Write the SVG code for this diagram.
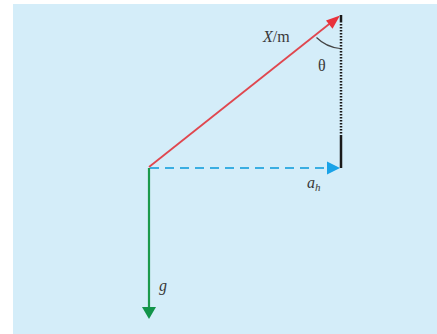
<svg xmlns="http://www.w3.org/2000/svg" width="437" height="334" viewBox="0 0 437 334">
<defs>
<style>
.lbl{font-family:"Liberation Serif","Times New Roman",serif;font-size:16px;fill:#3a3a3a;}
.it{font-style:italic;}
</style>
</defs>
<rect x="0" y="0" width="437" height="334" fill="#ffffff"/>
<rect x="13" y="4" width="424" height="330" fill="#d4edf9"/>
<g id="vertical">
<line x1="341" y1="15" x2="341" y2="21" stroke="#1a1a1a" stroke-width="2.5"/>
<line x1="341" y1="21" x2="341" y2="135" stroke="#1a1a1a" stroke-width="2.5" stroke-dasharray="1.6 1.4"/>
<line x1="341" y1="135" x2="341" y2="168" stroke="#1a1a1a" stroke-width="2.5"/>
</g>
<g id="connectors">
<line x1="149" y1="167" x2="333" y2="21" stroke="#e0474f" stroke-width="1.8"/>
<path d="M340,15.5 L326,20.5 L332.5,28.8 z" fill="#e8323c"/>
<line x1="150" y1="168" x2="330" y2="168" stroke="#3aaee2" stroke-width="1.9" stroke-dasharray="9 6"/>
<path d="M340,168 L327,161.5 L327,174.5 z" fill="#1aa3e8"/>
<line x1="149" y1="168" x2="149" y2="308" stroke="#1b9a4c" stroke-width="2.2"/>
<path d="M149,319 L142,307 L156,307 z" fill="#12944a"/>
<path d="M316.5,37.5 Q326,47 340,48.5" fill="none" stroke="#444" stroke-width="1.2"/>
</g>
<g id="labels">
<text x="263" y="42" class="lbl"><tspan class="it">X</tspan>/m</text>
<text x="318" y="71" class="lbl">θ</text>
<text x="307" y="188" class="lbl it">a<tspan font-size="11" dy="3">h</tspan></text>
<text x="159" y="291" class="lbl it">g</text>
</g>
</svg>
